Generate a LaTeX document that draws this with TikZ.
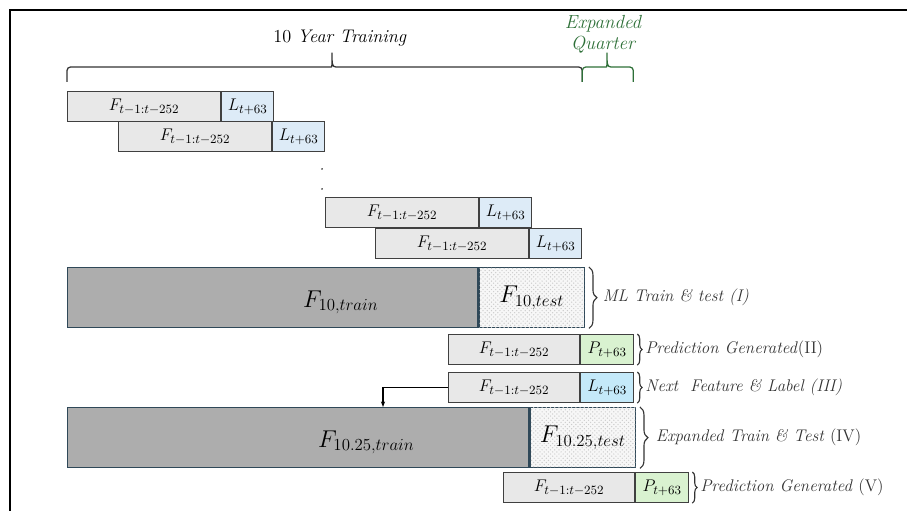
\documentclass[tikz,border=0pt]{standalone}
\usepackage{amsmath,amssymb}
\usepackage{xcolor}
\usepackage{tikz}
\usetikzlibrary{calc,arrows.meta,positioning,decorations.pathreplacing,patterns}
\definecolor{featGray}{RGB}{232,232,232}
\definecolor{edgeGray}{RGB}{64,64,64}
\definecolor{labelBlue}{RGB}{221,235,247}
\definecolor{labelCyan}{RGB}{196,233,249}
\definecolor{predGreen}{RGB}{217,242,208}
\definecolor{trainGray}{RGB}{173,173,173}
\definecolor{slateEdge}{RGB}{47,72,88}
\definecolor{quarterGreen}{RGB}{46,112,56}

\begin{document}
\begin{tikzpicture}[x=0.025cm,y=-0.025cm,
  feat/.style={draw=edgeGray, line width=0.8pt, fill=featGray, minimum height=0.75cm,
    inner sep=0pt, font=\fontsize{13}{15}\selectfont, text=black},
  labcell/.style={feat, fill=labelBlue, minimum width=1.3cm},
  predcell/.style={feat, fill=predGreen, minimum width=1.325cm},
  bigtrain/.style={draw=slateEdge, line width=1pt, fill=trainGray, minimum height=1.5cm,
    inner sep=0pt, font=\LARGE},
  bigtest/.style={bigtrain, fill=black!3, minimum width=2.625cm,
    postaction={pattern=crosshatch dots, pattern color=black!20}},
  curly/.style={decorate, decoration={brace, amplitude=#1}, line width=0.8pt, black!80},
  bracket/.style={line width=0.9pt, line join=round, rounded corners=2.5pt},
  sidetext/.style={font=\large, inner sep=1pt, anchor=west}
]
\useasboundingbox (0,0) rectangle (907,511);
\draw[line width=1.5pt] (10,511) -- (10,10) -- (907,10);

% sliding windows of the 10 year training set
\foreach \i/\x/\y in {1/67/91,2/118/121,3/325/197,4/375/228}{
  \node[feat, minimum width=3.825cm, anchor=north west] (f\i) at (\x,\y) {$F_{t-1:t-252}$};
  \node[labcell, right=0pt of f\i] (l\i) {$L_{t+63}$};
}
\node[circle, fill=black!80, inner sep=0.5pt] (d1) at (322,169) {};
\node[circle, fill=black!80, inner sep=0.5pt] (d2) at (322,189) {};

% braces on top
\coordinate (yrA) at ($(f1.north west)+(0,-9)$);
\coordinate (yrB) at (l4.east |- yrA);
\coordinate (qtrB) at ($(yrB)+(51,0)$);
\coordinate (yrTip) at (332,53);
\coordinate (qtrTip) at (607,53);
\draw[bracket, black!80] (yrA) -- ++(0,-15) -- ($(yrTip)+(-4,14)$) [sharp corners]
  .. controls ($(yrTip)+(0,14)$) and ($(yrTip)+(0,11)$) .. (yrTip)
  .. controls ($(yrTip)+(0,11)$) and ($(yrTip)+(0,14)$) .. ($(yrTip)+(4,14)$) [rounded corners=2.5pt]
  -- ($(yrB)+(0,-15)$) -- (yrB);
\draw[bracket, quarterGreen] (yrB) -- ++(0,-15) -- ($(qtrTip)+(-4,14)$) [sharp corners]
  .. controls ($(qtrTip)+(0,14)$) and ($(qtrTip)+(0,11)$) .. (qtrTip)
  .. controls ($(qtrTip)+(0,11)$) and ($(qtrTip)+(0,14)$) .. ($(qtrTip)+(4,14)$) [rounded corners=2.5pt]
  -- ($(qtrB)+(0,-15)$) -- (qtrB);
\node[font=\fontsize{13}{15}\selectfont, inner sep=1pt] (yrLbl) at (340,38) {10 \textit{Year Training}};
\node[font=\fontsize{13.5}{15}\selectfont\itshape, text=quarterGreen, align=center, inner sep=1pt]
  (qtrLbl) at (603,34) {Expanded\\[0pt]Quarter};

% step I
\node[bigtrain, minimum width=10.25cm, anchor=north west,
  label={[name=trLbl1, xshift=1.7cm, yshift=-0.12cm, font=\LARGE]center:$F_{10,train}$}]
  (tr1) at (67,267) {};
\node[bigtest, right=0pt of tr1] (te1) {$F_{10,test}$};
\draw[curly=0.2cm] ($(te1.north east)+(4,0)$) -- ($(te1.south east)+(4,0)$)
  node[midway, sidetext, right=0.3cm] (lbI) {\textit{ML Train \& test (I)}};

% step II
\node[feat, minimum width=3.275cm, anchor=north west] (f5) at (448,334) {$F_{t-1:t-252}$};
\node[predcell, right=0pt of f5] (p5) {$P_{t+63}$};
\draw[curly=0.12cm] ($(p5.north east)+(3,0)$) -- ($(p5.south east)+(3,0)$)
  node[midway, sidetext, right=0.15cm] (lbII) {\textit{Prediction Generated}(II)};

% step III
\node[feat, minimum width=3.275cm, anchor=north west] (f6) at (448,372) {$F_{t-1:t-252}$};
\node[labcell, fill=labelCyan, minimum width=1.325cm, right=0pt of f6] (l6) {$L_{t+63}$};
\draw[curly=0.12cm] ($(l6.north east)+(3,0)$) -- ($(l6.south east)+(3,0)$)
  node[midway, sidetext, right=0.15cm] (lbIII) {\textit{Next\ \ Feature \& Label (III)}};

% step IV
\node[bigtrain, minimum width=11.525cm, anchor=north west,
  label={[name=trLbl2, xshift=1.7cm, yshift=-0.12cm, font=\LARGE]center:$F_{10.25,train}$}]
  (tr2) at (67,407) {};
\node[bigtest, right=0pt of tr2] (te2) {$F_{10.25,test}$};
\draw[curly=0.2cm] ($(te2.north east)+(4,0)$) -- ($(te2.south east)+(4,0)$)
  node[midway, sidetext, right=0.35cm] (lbIV) {\textit{Expanded Train \& Test} (IV)};
\coordinate (drop) at ($(tr2.north west)+(316,0)$);
\draw[line width=0.8pt, -{Stealth[length=4pt,width=3pt]}] (f6.west) -| (drop);

% step V
\node[feat, minimum width=3.275cm, anchor=north west] (f7) at (503,472) {$F_{t-1:t-252}$};
\node[predcell, right=0pt of f7] (p7) {$P_{t+63}$};
\draw[curly=0.12cm] ($(p7.north east)+(3,0)$) -- ($(p7.south east)+(3,0)$)
  node[midway, sidetext, right=0.15cm] (lbV) {\textit{Prediction Generated} (V)};
\end{tikzpicture}
\end{document}
